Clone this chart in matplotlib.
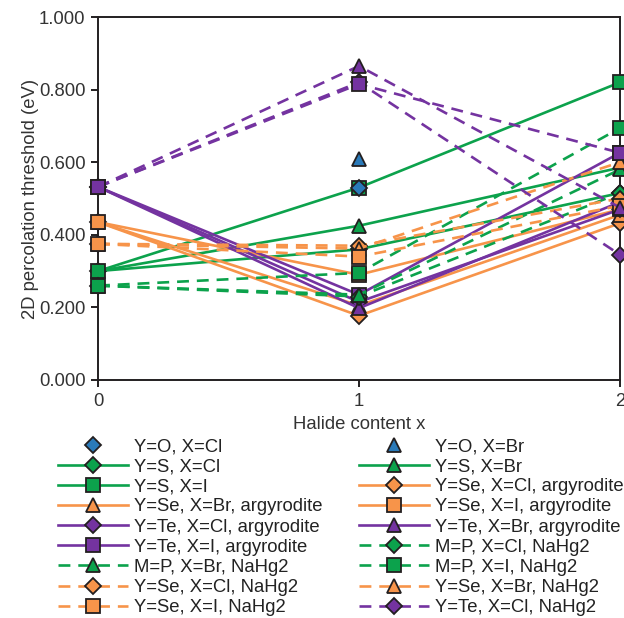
import numpy as np
import matplotlib
matplotlib.use("Agg")
import matplotlib.pyplot as plt

plt.rcParams['font.family'] = ['Liberation Sans', 'DejaVu Sans']

x = [0, 1, 2]
nan = np.nan

labels = [
    "Y=O, X=Cl", "Y=O, X=Br",
    "Y=S, X=Cl", "Y=S, X=Br", "Y=S, X=I",
    "Y=Se, X=Cl, argyrodite", "Y=Se, X=Br, argyrodite", "Y=Se, X=I, argyrodite",
    "Y=Te, X=Cl, argyrodite", "Y=Te, X=Br, argyrodite", "Y=Te, X=I, argyrodite",
    "M=P, X=Cl, NaHg2", "M=P, X=Br, NaHg2", "M=P, X=I, NaHg2",
    "Y=Se, X=Cl, NaHg2", "Y=Se, X=Br, NaHg2", "Y=Se, X=I, NaHg2",
    "Y=Te, X=Cl, NaHg2", "Y=Te, X=Br, NaHg2", "Y=Te, X=I, NaHg2",
]

values = [
    [nan, 0.530, nan],
    [nan, 0.610, nan],
    [0.300, 0.360, 0.515],
    [0.300, 0.425, 0.585],
    [0.300, 0.530, 0.820],
    [0.435, 0.177, 0.432],
    [0.435, 0.205, 0.455],
    [0.435, 0.290, 0.470],
    [0.532, 0.215, 0.470],
    [0.532, 0.198, 0.490],
    [0.532, 0.235, 0.626],
    [0.260, 0.230, 0.515],
    [0.260, 0.235, 0.580],
    [0.260, 0.295, 0.694],
    [0.375, 0.370, 0.500],
    [0.375, 0.362, 0.600],
    [0.375, 0.340, 0.480],
    [0.532, 0.820, 0.345],
    [0.532, 0.865, 0.475],
    [0.532, 0.815, 0.626],
]

BLUE = "#2a7ab9"
GREEN = "#0ca24c"
ORANGE = "#f7944a"
PURPLE = "#7433a0"
EDGE = "#231f20"
TXT = "#333333"

colors = [BLUE, BLUE, GREEN, GREEN, GREEN, ORANGE, ORANGE, ORANGE,
          PURPLE, PURPLE, PURPLE, GREEN, GREEN, GREEN,
          ORANGE, ORANGE, ORANGE, PURPLE, PURPLE, PURPLE]
markers = ["D", "^", "D", "^", "s", "D", "^", "s", "D", "^", "s",
           "D", "^", "s", "D", "^", "s", "D", "^", "s"]
styles = ["none", "none", "-", "-", "-", "-", "-", "-", "-", "-", "-",
          "--", "--", "--", "--", "--", "--", "--", "--", "--"]
msizes = {"D": 8.0, "^": 9.5, "s": 10.0}

fig = plt.figure(figsize=(6.24, 6.18), dpi=100)
ax = fig.add_axes([98/624, 1-380/618, (620-98)/624, (380-17)/618])

handles = []
for i, (lab, vals) in enumerate(zip(labels, values)):
    ls = styles[i]
    kw = dict(color=colors[i], marker=markers[i], markersize=msizes[markers[i]],
              markerfacecolor=colors[i], markeredgecolor=EDGE, markeredgewidth=1.3,
              linewidth=1.9, clip_on=False, label=lab)
    if ls == "--":
        kw["dashes"] = (4.5, 3.0)
        kw["linestyle"] = "--"
    else:
        kw["linestyle"] = ls
    z = 5 if i < 2 else 3
    h, = ax.plot(x, vals, zorder=z, **kw)
    handles.append(h)

FS = 13.3
ax.set_xlim(0, 2)
ax.set_ylim(0, 1.0)
ax.set_xticks([0, 1, 2])
ax.set_yticks(np.arange(0, 1.01, 0.2))
ax.set_yticklabels([f"{v:.3f}" for v in np.arange(0, 1.01, 0.2)])
for s in ax.spines.values():
    s.set_color(EDGE)
    s.set_linewidth(1.4)
ax.tick_params(axis="both", direction="out", length=5, width=1.4, color=EDGE,
               labelsize=FS, labelcolor=TXT, pad=4)
ax.set_ylabel("2D percolation threshold (eV)", fontsize=FS, color=TXT, labelpad=0)
ax.set_xlabel("Halide content x", fontsize=FS, color=TXT, labelpad=5)

# legend (first 18 entries visible in the figure), two columns filled row-wise
shown = handles[:18]
col1 = [shown[i] for i in range(0, 18, 2)]
col2 = [shown[i] for i in range(1, 18, 2)]
leg_h = col1 + col2
fig.legend(handles=leg_h, labels=[h.get_label() for h in leg_h], ncol=2,
           loc="upper left", bbox_to_anchor=(58/624, 1-438/618),
           frameon=False, fontsize=FS, handlelength=3.8, handletextpad=0.3,
           columnspacing=2.0, labelspacing=0.17, borderpad=0, borderaxespad=0,
           numpoints=1, labelcolor="#222222")

fig.savefig("out.png", dpi=100)
